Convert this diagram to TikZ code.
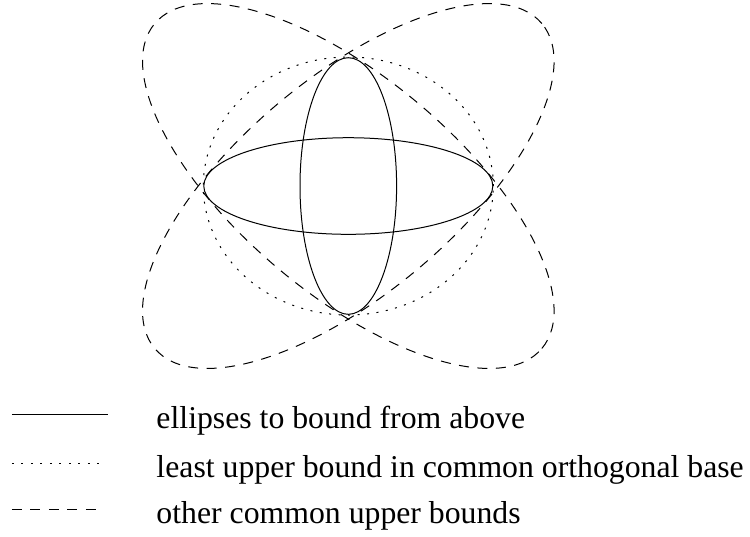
\documentclass[tikz,border=0pt]{standalone}
\usepackage{fontspec}
\setmainfont{Liberation Serif}
\usetikzlibrary{calc}

\begin{document}
\begin{tikzpicture}[x=0.4pt,y=0.4pt,
  bound/.style={dash pattern=on 4pt off 3.4pt},
  lub/.style={dash pattern=on 0.8pt off 3pt},
  legtext/.style={anchor=base west,inner sep=0pt,font=\fontsize{12.7}{15}\selectfont}]
  \useasboundingbox (-348.3,-350) rectangle (401.7,186);
  \coordinate (C) at (0,0);
  \draw (C) ellipse [x radius=144.5,y radius=48.3];
  \draw (C) ellipse [x radius=48.3,y radius=128.3];
  \draw[lub] (C) ellipse [x radius=145,y radius=129];
  \draw[bound,rotate around={40:(C)}] (C) ellipse [x radius=252.7,y radius=108.3];
  \draw[bound,rotate around={-40:(C)}] (C) ellipse [x radius=252.7,y radius=108.3];
  % legend
  \coordinate (L1) at (-336.3,-228);
  \coordinate (L2) at (-336.3,-277);
  \coordinate (L3) at (-336.3,-323);
  \draw (L1) -- ++(96,0);
  \draw[lub] (L2) -- ++(93,0);
  \draw[bound] (L3) -- ++(88,0);
  \node[legtext] (t1) at (-192.3,-242) {ellipses to bound from above};
  \node[legtext] (t2) at (-192.3,-291) {least upper bound in common orthogonal base};
  \node[legtext] (t3) at (-192.3,-337) {other common upper bounds};
\end{tikzpicture}
\end{document}
